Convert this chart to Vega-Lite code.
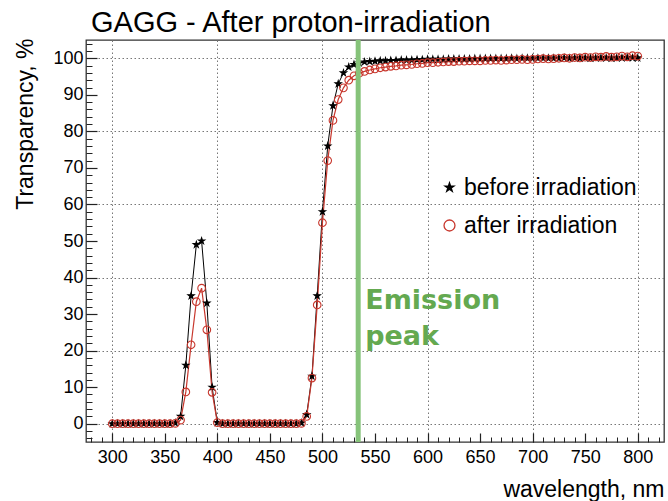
{
  "$schema": "https://vega.github.io/schema/vega-lite/v6.json",
  "width": 578,
  "height": 402,
  "autosize": "none",
  "padding": {"left": 86, "top": 40, "right": 4, "bottom": 59},
  "background": "white",
  "title": {
    "text": "GAGG - After proton-irradiation",
    "anchor": "start",
    "frame": "group",
    "font": "Liberation Sans",
    "fontSize": 29,
    "fontWeight": "normal",
    "color": "black",
    "baseline": "alphabetic",
    "offset": 9,
    "dx": 5,
    "dy": 32
  },
  "config": {
    "view": {"stroke": "#333", "strokeWidth": 1.3},
    "axis": {
      "labelFont": "Liberation Sans",
      "titleFont": "Liberation Sans",
      "labelColor": "black",
      "titleColor": "black",
      "tickColor": "#222",
      "domain": false,
      "titleFontWeight": "normal"
    }
  },
  "data": {
    "values": [
      {"wl": 300, "t": 0, "series": "before irradiation"},
      {"wl": 305, "t": 0, "series": "before irradiation"},
      {"wl": 310, "t": 0, "series": "before irradiation"},
      {"wl": 315, "t": 0, "series": "before irradiation"},
      {"wl": 320, "t": 0, "series": "before irradiation"},
      {"wl": 325, "t": 0, "series": "before irradiation"},
      {"wl": 330, "t": 0, "series": "before irradiation"},
      {"wl": 335, "t": 0, "series": "before irradiation"},
      {"wl": 340, "t": 0, "series": "before irradiation"},
      {"wl": 345, "t": 0, "series": "before irradiation"},
      {"wl": 350, "t": 0, "series": "before irradiation"},
      {"wl": 355, "t": 0, "series": "before irradiation"},
      {"wl": 360, "t": 0.2, "series": "before irradiation"},
      {"wl": 365, "t": 2, "series": "before irradiation"},
      {"wl": 370, "t": 16, "series": "before irradiation"},
      {"wl": 375, "t": 35, "series": "before irradiation"},
      {"wl": 380, "t": 49, "series": "before irradiation"},
      {"wl": 385, "t": 50, "series": "before irradiation"},
      {"wl": 390, "t": 33, "series": "before irradiation"},
      {"wl": 395, "t": 10, "series": "before irradiation"},
      {"wl": 400, "t": 0.3, "series": "before irradiation"},
      {"wl": 405, "t": 0, "series": "before irradiation"},
      {"wl": 410, "t": 0, "series": "before irradiation"},
      {"wl": 415, "t": 0, "series": "before irradiation"},
      {"wl": 420, "t": 0, "series": "before irradiation"},
      {"wl": 425, "t": 0, "series": "before irradiation"},
      {"wl": 430, "t": 0, "series": "before irradiation"},
      {"wl": 435, "t": 0, "series": "before irradiation"},
      {"wl": 440, "t": 0, "series": "before irradiation"},
      {"wl": 445, "t": 0, "series": "before irradiation"},
      {"wl": 450, "t": 0, "series": "before irradiation"},
      {"wl": 455, "t": 0, "series": "before irradiation"},
      {"wl": 460, "t": 0, "series": "before irradiation"},
      {"wl": 465, "t": 0, "series": "before irradiation"},
      {"wl": 470, "t": 0, "series": "before irradiation"},
      {"wl": 475, "t": 0, "series": "before irradiation"},
      {"wl": 480, "t": 0.2, "series": "before irradiation"},
      {"wl": 485, "t": 2.5, "series": "before irradiation"},
      {"wl": 490, "t": 13, "series": "before irradiation"},
      {"wl": 495, "t": 35, "series": "before irradiation"},
      {"wl": 500, "t": 58, "series": "before irradiation"},
      {"wl": 505, "t": 76, "series": "before irradiation"},
      {"wl": 510, "t": 87, "series": "before irradiation"},
      {"wl": 515, "t": 93, "series": "before irradiation"},
      {"wl": 520, "t": 96, "series": "before irradiation"},
      {"wl": 525, "t": 97.6, "series": "before irradiation"},
      {"wl": 530, "t": 98.3, "series": "before irradiation"},
      {"wl": 535, "t": 98.7, "series": "before irradiation"},
      {"wl": 540, "t": 99, "series": "before irradiation"},
      {"wl": 545, "t": 99.1, "series": "before irradiation"},
      {"wl": 550, "t": 99.2, "series": "before irradiation"},
      {"wl": 555, "t": 99.3, "series": "before irradiation"},
      {"wl": 560, "t": 99.3, "series": "before irradiation"},
      {"wl": 565, "t": 99.4, "series": "before irradiation"},
      {"wl": 570, "t": 99.4, "series": "before irradiation"},
      {"wl": 575, "t": 99.5, "series": "before irradiation"},
      {"wl": 580, "t": 99.5, "series": "before irradiation"},
      {"wl": 585, "t": 99.5, "series": "before irradiation"},
      {"wl": 590, "t": 99.6, "series": "before irradiation"},
      {"wl": 595, "t": 99.6, "series": "before irradiation"},
      {"wl": 600, "t": 99.7, "series": "before irradiation"},
      {"wl": 605, "t": 99.7, "series": "before irradiation"},
      {"wl": 610, "t": 99.7, "series": "before irradiation"},
      {"wl": 615, "t": 99.7, "series": "before irradiation"},
      {"wl": 620, "t": 99.8, "series": "before irradiation"},
      {"wl": 625, "t": 99.8, "series": "before irradiation"},
      {"wl": 630, "t": 99.8, "series": "before irradiation"},
      {"wl": 635, "t": 99.8, "series": "before irradiation"},
      {"wl": 640, "t": 99.8, "series": "before irradiation"},
      {"wl": 645, "t": 99.9, "series": "before irradiation"},
      {"wl": 650, "t": 99.9, "series": "before irradiation"},
      {"wl": 655, "t": 99.9, "series": "before irradiation"},
      {"wl": 660, "t": 99.9, "series": "before irradiation"},
      {"wl": 665, "t": 99.9, "series": "before irradiation"},
      {"wl": 670, "t": 99.9, "series": "before irradiation"},
      {"wl": 675, "t": 99.9, "series": "before irradiation"},
      {"wl": 680, "t": 100, "series": "before irradiation"},
      {"wl": 685, "t": 99.9, "series": "before irradiation"},
      {"wl": 690, "t": 100, "series": "before irradiation"},
      {"wl": 695, "t": 100, "series": "before irradiation"},
      {"wl": 700, "t": 100, "series": "before irradiation"},
      {"wl": 705, "t": 100, "series": "before irradiation"},
      {"wl": 710, "t": 100, "series": "before irradiation"},
      {"wl": 715, "t": 100, "series": "before irradiation"},
      {"wl": 720, "t": 100, "series": "before irradiation"},
      {"wl": 725, "t": 100, "series": "before irradiation"},
      {"wl": 730, "t": 100.1, "series": "before irradiation"},
      {"wl": 735, "t": 100, "series": "before irradiation"},
      {"wl": 740, "t": 100.1, "series": "before irradiation"},
      {"wl": 745, "t": 100, "series": "before irradiation"},
      {"wl": 750, "t": 100.1, "series": "before irradiation"},
      {"wl": 755, "t": 100, "series": "before irradiation"},
      {"wl": 760, "t": 100.1, "series": "before irradiation"},
      {"wl": 765, "t": 100.1, "series": "before irradiation"},
      {"wl": 770, "t": 100.1, "series": "before irradiation"},
      {"wl": 775, "t": 100, "series": "before irradiation"},
      {"wl": 780, "t": 100.1, "series": "before irradiation"},
      {"wl": 785, "t": 100.1, "series": "before irradiation"},
      {"wl": 790, "t": 100.2, "series": "before irradiation"},
      {"wl": 795, "t": 100.1, "series": "before irradiation"},
      {"wl": 800, "t": 100.1, "series": "before irradiation"},
      {"wl": 300, "t": 0, "series": "after irradiation"},
      {"wl": 305, "t": 0, "series": "after irradiation"},
      {"wl": 310, "t": 0, "series": "after irradiation"},
      {"wl": 315, "t": 0, "series": "after irradiation"},
      {"wl": 320, "t": 0, "series": "after irradiation"},
      {"wl": 325, "t": 0, "series": "after irradiation"},
      {"wl": 330, "t": 0, "series": "after irradiation"},
      {"wl": 335, "t": 0, "series": "after irradiation"},
      {"wl": 340, "t": 0, "series": "after irradiation"},
      {"wl": 345, "t": 0, "series": "after irradiation"},
      {"wl": 350, "t": 0, "series": "after irradiation"},
      {"wl": 355, "t": 0, "series": "after irradiation"},
      {"wl": 360, "t": 0.1, "series": "after irradiation"},
      {"wl": 365, "t": 1, "series": "after irradiation"},
      {"wl": 370, "t": 8.7, "series": "after irradiation"},
      {"wl": 375, "t": 21.6, "series": "after irradiation"},
      {"wl": 380, "t": 33.4, "series": "after irradiation"},
      {"wl": 385, "t": 37.1, "series": "after irradiation"},
      {"wl": 390, "t": 25.7, "series": "after irradiation"},
      {"wl": 395, "t": 8.6, "series": "after irradiation"},
      {"wl": 400, "t": 0.3, "series": "after irradiation"},
      {"wl": 405, "t": 0, "series": "after irradiation"},
      {"wl": 410, "t": 0, "series": "after irradiation"},
      {"wl": 415, "t": 0, "series": "after irradiation"},
      {"wl": 420, "t": 0, "series": "after irradiation"},
      {"wl": 425, "t": 0, "series": "after irradiation"},
      {"wl": 430, "t": 0, "series": "after irradiation"},
      {"wl": 435, "t": 0, "series": "after irradiation"},
      {"wl": 440, "t": 0, "series": "after irradiation"},
      {"wl": 445, "t": 0, "series": "after irradiation"},
      {"wl": 450, "t": 0, "series": "after irradiation"},
      {"wl": 455, "t": 0, "series": "after irradiation"},
      {"wl": 460, "t": 0, "series": "after irradiation"},
      {"wl": 465, "t": 0, "series": "after irradiation"},
      {"wl": 470, "t": 0, "series": "after irradiation"},
      {"wl": 475, "t": 0, "series": "after irradiation"},
      {"wl": 480, "t": 0.1, "series": "after irradiation"},
      {"wl": 485, "t": 2, "series": "after irradiation"},
      {"wl": 490, "t": 12.5, "series": "after irradiation"},
      {"wl": 495, "t": 32.5, "series": "after irradiation"},
      {"wl": 500, "t": 55, "series": "after irradiation"},
      {"wl": 505, "t": 72, "series": "after irradiation"},
      {"wl": 510, "t": 83, "series": "after irradiation"},
      {"wl": 515, "t": 88.7, "series": "after irradiation"},
      {"wl": 520, "t": 91.9, "series": "after irradiation"},
      {"wl": 525, "t": 94, "series": "after irradiation"},
      {"wl": 530, "t": 95.2, "series": "after irradiation"},
      {"wl": 535, "t": 95.9, "series": "after irradiation"},
      {"wl": 540, "t": 96.4, "series": "after irradiation"},
      {"wl": 545, "t": 96.8, "series": "after irradiation"},
      {"wl": 550, "t": 97.1, "series": "after irradiation"},
      {"wl": 555, "t": 97.4, "series": "after irradiation"},
      {"wl": 560, "t": 97.6, "series": "after irradiation"},
      {"wl": 565, "t": 97.8, "series": "after irradiation"},
      {"wl": 570, "t": 97.9, "series": "after irradiation"},
      {"wl": 575, "t": 98.1, "series": "after irradiation"},
      {"wl": 580, "t": 98.2, "series": "after irradiation"},
      {"wl": 585, "t": 98.3, "series": "after irradiation"},
      {"wl": 590, "t": 98.5, "series": "after irradiation"},
      {"wl": 595, "t": 98.6, "series": "after irradiation"},
      {"wl": 600, "t": 98.8, "series": "after irradiation"},
      {"wl": 605, "t": 98.8, "series": "after irradiation"},
      {"wl": 610, "t": 98.9, "series": "after irradiation"},
      {"wl": 615, "t": 99, "series": "after irradiation"},
      {"wl": 620, "t": 99.1, "series": "after irradiation"},
      {"wl": 625, "t": 99.1, "series": "after irradiation"},
      {"wl": 630, "t": 99.2, "series": "after irradiation"},
      {"wl": 635, "t": 99.2, "series": "after irradiation"},
      {"wl": 640, "t": 99.3, "series": "after irradiation"},
      {"wl": 645, "t": 99.3, "series": "after irradiation"},
      {"wl": 650, "t": 99.3, "series": "after irradiation"},
      {"wl": 655, "t": 99.4, "series": "after irradiation"},
      {"wl": 660, "t": 99.4, "series": "after irradiation"},
      {"wl": 665, "t": 99.5, "series": "after irradiation"},
      {"wl": 670, "t": 99.4, "series": "after irradiation"},
      {"wl": 675, "t": 99.5, "series": "after irradiation"},
      {"wl": 680, "t": 99.6, "series": "after irradiation"},
      {"wl": 685, "t": 99.6, "series": "after irradiation"},
      {"wl": 690, "t": 99.7, "series": "after irradiation"},
      {"wl": 695, "t": 99.6, "series": "after irradiation"},
      {"wl": 700, "t": 99.7, "series": "after irradiation"},
      {"wl": 705, "t": 99.8, "series": "after irradiation"},
      {"wl": 710, "t": 99.9, "series": "after irradiation"},
      {"wl": 715, "t": 99.8, "series": "after irradiation"},
      {"wl": 720, "t": 99.9, "series": "after irradiation"},
      {"wl": 725, "t": 100, "series": "after irradiation"},
      {"wl": 730, "t": 100.1, "series": "after irradiation"},
      {"wl": 735, "t": 100, "series": "after irradiation"},
      {"wl": 740, "t": 100.2, "series": "after irradiation"},
      {"wl": 745, "t": 100.1, "series": "after irradiation"},
      {"wl": 750, "t": 100.3, "series": "after irradiation"},
      {"wl": 755, "t": 100.2, "series": "after irradiation"},
      {"wl": 760, "t": 100.4, "series": "after irradiation"},
      {"wl": 765, "t": 100.3, "series": "after irradiation"},
      {"wl": 770, "t": 100.5, "series": "after irradiation"},
      {"wl": 775, "t": 100.3, "series": "after irradiation"},
      {"wl": 780, "t": 100.4, "series": "after irradiation"},
      {"wl": 785, "t": 100.6, "series": "after irradiation"},
      {"wl": 790, "t": 100.4, "series": "after irradiation"},
      {"wl": 795, "t": 100.7, "series": "after irradiation"},
      {"wl": 800, "t": 100.6, "series": "after irradiation"}
    ]
  },
  "resolve": {"axis": {"x": "independent", "y": "independent"}},
  "layer": [
    {
      "transform": [{"filter": "datum.series == 'before irradiation'"}],
      "mark": {"type": "line", "color": "black", "strokeWidth": 1},
      "encoding": {
        "x": {
          "field": "wl", "type": "quantitative",
          "scale": {"domain": [275, 825], "nice": false, "zero": false},
          "axis": {"orient": "bottom", "values": [300, 400, 500, 600, 700, 800], "grid": true, "gridDash": [1.5, 2.5], "gridColor": "#777", "gridWidth": 1, "ticks": false, "labels": false, "domain": false, "title": null}
        },
        "y": {
          "field": "t", "type": "quantitative",
          "scale": {"domain": [-5, 105], "nice": false, "zero": false},
          "axis": {"orient": "left", "values": [0, 20, 40, 60, 80, 100], "grid": true, "gridDash": [1.5, 2.5], "gridColor": "#777", "gridWidth": 1, "ticks": false, "labels": false, "domain": false, "title": null}
        }
      }
    },
    {
      "transform": [{"filter": "datum.series == 'after irradiation'"}],
      "mark": {"type": "line", "color": "#c8372d", "strokeWidth": 1.2},
      "encoding": {
        "x": {
          "field": "wl", "type": "quantitative",
          "axis": {"orient": "bottom", "values": [280, 290, 300, 310, 320, 330, 340, 350, 360, 370, 380, 390, 400, 410, 420, 430, 440, 450, 460, 470, 480, 490, 500, 510, 520, 530, 540, 550, 560, 570, 580, 590, 600, 610, 620, 630, 640, 650, 660, 670, 680, 690, 700, 710, 720, 730, 740, 750, 760, 770, 780, 790, 800, 810, 820], "grid": false, "tickSize": -5, "tickWidth": 1, "labels": false, "domain": false, "title": null}
        },
        "y": {
          "field": "t", "type": "quantitative",
          "axis": {"orient": "left", "values": [-4, -2, 0, 2, 4, 6, 8, 10, 12, 14, 16, 18, 20, 22, 24, 26, 28, 30, 32, 34, 36, 38, 40, 42, 44, 46, 48, 50, 52, 54, 56, 58, 60, 62, 64, 66, 68, 70, 72, 74, 76, 78, 80, 82, 84, 86, 88, 90, 92, 94, 96, 98, 100, 102, 104], "grid": false, "tickSize": -6, "tickWidth": 1, "labels": false, "domain": false, "title": null}
        }
      }
    },
    {
      "mark": {"type": "point", "filled": true, "size": 58, "strokeWidth": 1.1, "opacity": 1},
      "encoding": {
        "x": {
          "field": "wl", "type": "quantitative",
          "axis": {"orient": "bottom", "values": [300, 350, 400, 450, 500, 550, 600, 650, 700, 750, 800], "grid": false, "tickSize": -9, "tickWidth": 1.2, "labelFontSize": 18, "labelPadding": 15, "domain": false, "title": "wavelength, nm", "titleFontSize": 23, "titleX": 578, "titleY": 54, "titleAlign": "right", "titleBaseline": "alphabetic"}
        },
        "y": {
          "field": "t", "type": "quantitative",
          "axis": {"orient": "left", "values": [0, 10, 20, 30, 40, 50, 60, 70, 80, 90, 100], "grid": false, "tickSize": -11, "tickWidth": 1.2, "labelFontSize": 18, "labelPadding": 14, "domain": false, "title": "Transparency, %", "titleFontSize": 23, "titleX": -54, "titleY": -2, "titleAngle": 270, "titleAlign": "right", "titleBaseline": "alphabetic"}
        },
        "shape": {
          "field": "series", "type": "nominal",
          "scale": {"domain": ["before irradiation", "after irradiation"], "range": ["M0,-0.85L0.191,-0.263L0.808,-0.263L0.309,0.1L0.5,0.688L0,0.325L-0.5,0.688L-0.309,0.1L-0.808,-0.263L-0.191,-0.263Z", "circle"]},
          "legend": {"title": null, "orient": "none", "legendX": 352, "legendY": 136, "labelFont": "Liberation Sans", "labelFontSize": 23, "labelColor": "black", "labelLimit": 400, "symbolSize": 120, "symbolStrokeWidth": 1.3, "rowPadding": 14, "labelOffset": 3, "padding": 0, "encode": {"labels": {"update": {"fill": {"signal": "datum.value == 'after irradiation' ? '#c8372d' : 'black'"}}}}}
        },
        "fill": {
          "field": "series", "type": "nominal",
          "scale": {"domain": ["before irradiation", "after irradiation"], "range": ["black", "transparent"]},
          "legend": {"title": null, "orient": "none", "legendX": 352, "legendY": 136, "labelFont": "Liberation Sans", "labelFontSize": 23, "labelColor": "black", "labelLimit": 400, "symbolSize": 120, "symbolStrokeWidth": 1.3, "rowPadding": 14, "labelOffset": 3, "padding": 0, "encode": {"labels": {"update": {"fill": {"signal": "datum.value == 'after irradiation' ? '#c8372d' : 'black'"}}}}}
        },
        "stroke": {
          "field": "series", "type": "nominal",
          "scale": {"domain": ["before irradiation", "after irradiation"], "range": ["black", "#c8372d"]},
          "legend": {"title": null, "orient": "none", "legendX": 352, "legendY": 136, "labelFont": "Liberation Sans", "labelFontSize": 23, "labelColor": "black", "labelLimit": 400, "symbolSize": 120, "symbolStrokeWidth": 1.3, "rowPadding": 14, "labelOffset": 3, "padding": 0, "encode": {"labels": {"update": {"fill": {"signal": "datum.value == 'after irradiation' ? '#c8372d' : 'black'"}}}}}
        }
      }
    },
    {
      "data": {"values": [{"peak": 534, "label": "Emission\npeak"}]},
      "mark": {"type": "rule", "color": "#86c37a", "strokeWidth": 5},
      "encoding": {
        "x": {"field": "peak", "type": "quantitative", "axis": null}
      }
    },
    {
      "data": {"values": [{"peak": 534, "label": "Emission\npeak"}]},
      "mark": {"type": "text", "font": "DejaVu Sans", "fontWeight": "bold", "fontSize": 27, "color": "#64a950", "align": "left", "baseline": "alphabetic", "dx": 7, "lineBreak": "\n", "lineHeight": 36},
      "encoding": {
        "x": {"field": "peak", "type": "quantitative", "axis": null},
        "y": {"datum": 31.3, "type": "quantitative", "axis": null},
        "text": {"field": "label", "type": "nominal"}
      }
    }
  ]
}
